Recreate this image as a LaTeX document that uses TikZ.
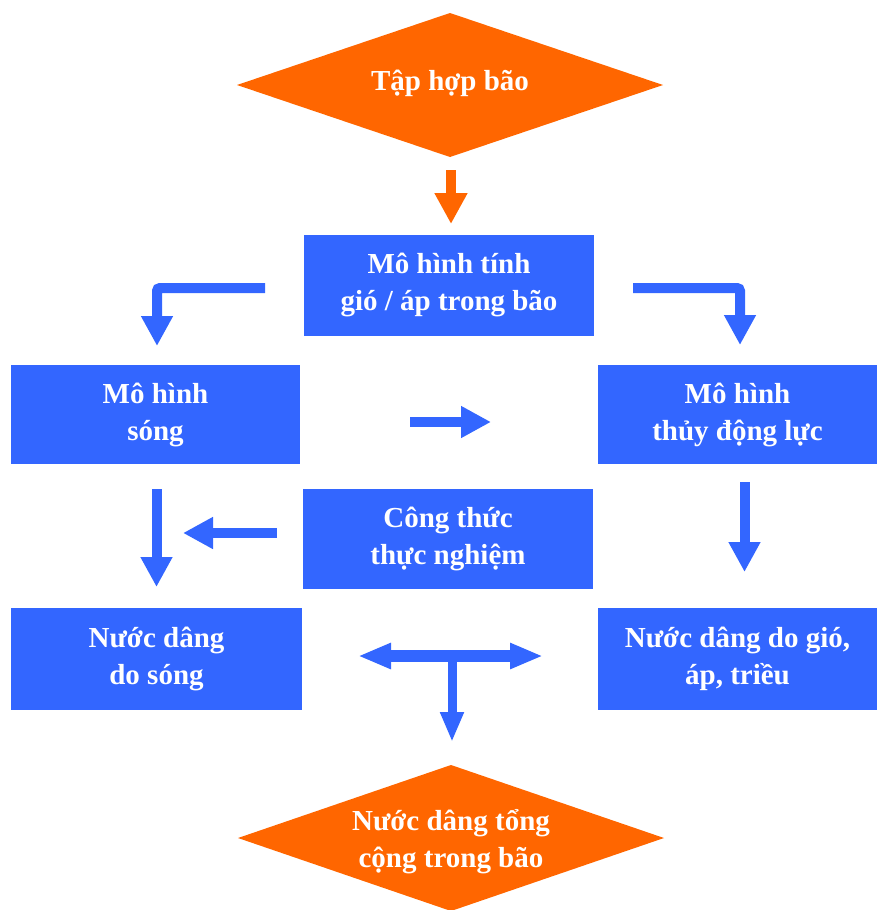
\documentclass[tikz,border=0pt]{standalone}
\usepackage{fontspec}
\setmainfont{Liberation Serif}
\usetikzlibrary{arrows.meta,calc}
\definecolor{boxblue}{RGB}{51,102,255}
\definecolor{boxorange}{RGB}{255,102,0}
\begin{document}
\begin{tikzpicture}[x=1pt,y=-1pt,
  txt/.style={text=white,font=\fontsize{29}{37}\selectfont\bfseries,align=center,inner sep=0pt},
  bluebox/.style={fill=boxblue,draw=none,minimum width=#1,minimum height=101pt,txt},
  barrow/.style={draw=boxblue,line width=10pt,-{Triangle[length=30pt,width=30pt]}},
  oarrow/.style={draw=boxorange,line width=10pt,-{Triangle[length=31pt,width=31pt]}}]
\useasboundingbox (0,0) rectangle (878,910);
% diamonds
\coordinate (d1) at (450,85);
\fill[boxorange] ($(d1)+(-213,0)$) -- ($(d1)+(0,-72)$) -- ($(d1)+(213,0)$) -- ($(d1)+(0,72)$) -- cycle;
\node[txt] (top) at ($(d1)+(0,-2)$) {Tập hợp bão};
\coordinate (d2) at (451,838);
\fill[boxorange] ($(d2)+(-213,0)$) -- ($(d2)+(0,-73)$) -- ($(d2)+(213,0)$) -- ($(d2)+(0,73)$) -- cycle;
\node[txt] (bottom) at ($(d2)+(0,4)$) {Nước dâng tổng\\cộng trong bão};
% boxes
\node[bluebox=290pt] (wind) at (449,285) {Mô hình tính\\gió / áp trong bão};
\node[bluebox=289pt,minimum height=99pt] (wave) at (155.5,414.5) {Mô hình\\sóng};
\node[bluebox=279pt,minimum height=99pt] (hydro) at (737.5,414.5) {Mô hình\\thủy động lực};
\node[bluebox=290pt,minimum height=100pt] (emp) at (448,539) {Công thức\\thực nghiệm};
\node[bluebox=291pt,minimum height=102pt] (wsurge) at (156.5,659) {Nước dâng\\do sóng};
\node[bluebox=279pt,minimum height=102pt] (msurge) at (737.5,659) {Nước dâng do gió,\\áp, triều};
% arrow end points
\coordinate (a1s) at (451,170); \coordinate (a1e) at (451,224);
\coordinate (a2s) at (265,288); \coordinate (a2e) at (157,346);
\coordinate (a3s) at (633,288); \coordinate (a3e) at (740,345);
\coordinate (a4s) at (410,422); \coordinate (a4e) at (491,422);
\coordinate (a5s) at (277,533); \coordinate (a5e) at (183,533);
\coordinate (a6s) at (156.5,489); \coordinate (a6e) at (156.5,587);
\coordinate (a7s) at (744.5,482); \coordinate (a7e) at (744.5,572);
\coordinate (tl) at (358,656); \coordinate (tr) at (543,656);
\coordinate (tm) at (452,656); \coordinate (tb) at (452,742);
% arrows
\draw[oarrow] (a1s) -- (a1e);
\draw[barrow,rounded corners=3pt] (a2s) -| (a2e);
\draw[barrow,rounded corners=3pt] (a3s) -| (a3e);
\draw[barrow] (a4s) -- (a4e);
\draw[barrow] (a5s) -- (a5e);
\draw[barrow] (a6s) -- (a6e);
\draw[barrow] (a7s) -- (a7e);
\draw[draw=boxblue,line width=12pt,{Triangle[length=33pt,width=24pt]}-{Triangle[length=33pt,width=24pt]}] (tl) -- (tr);
\draw[draw=boxblue,line width=9pt,-{Triangle[length=30pt,width=22pt]}] (tm) -- (tb);
\end{tikzpicture}
\end{document}
